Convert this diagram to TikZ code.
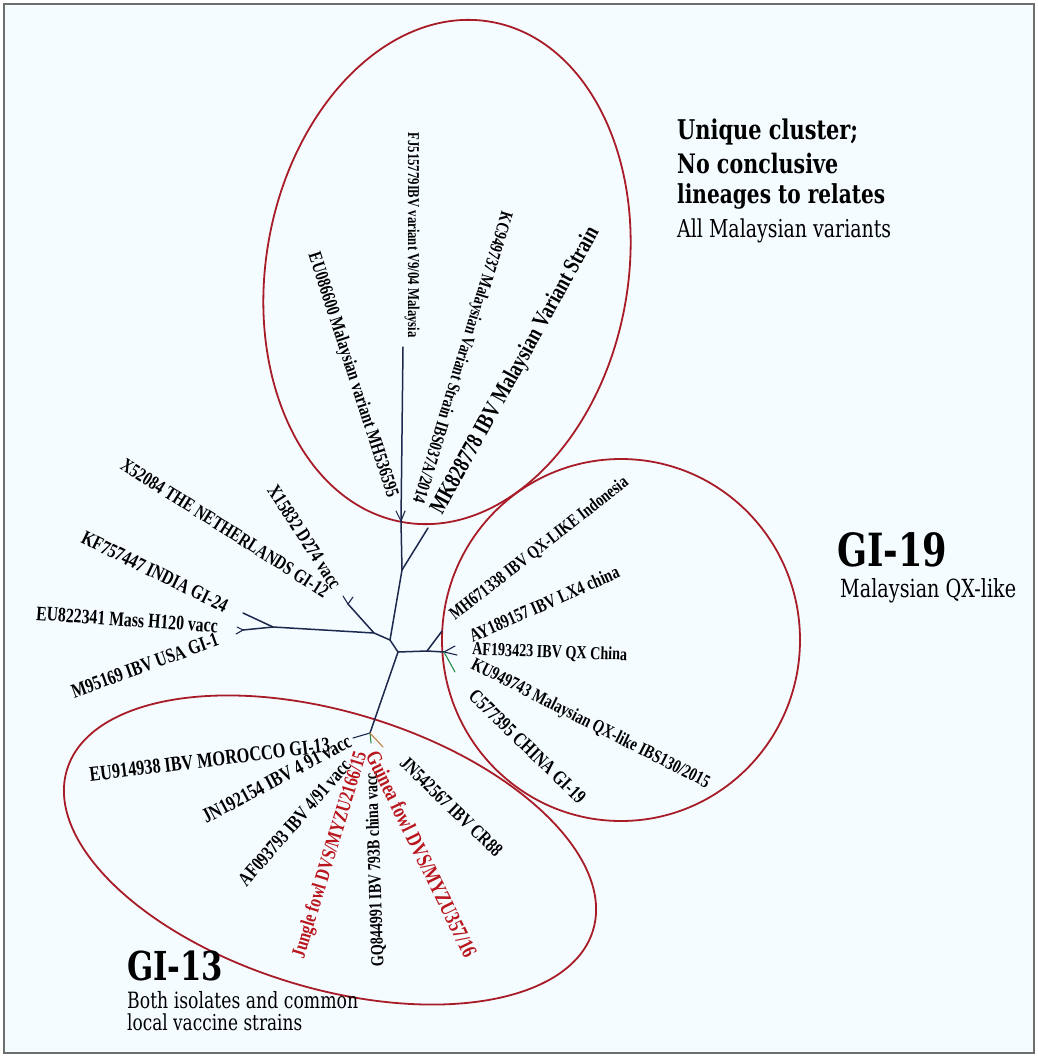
\documentclass[tikz,border=0pt]{standalone}
\usepackage{fontspec}
\setmainfont{Liberation Serif}
\newfontfamily\notefont{DejaVu Serif}
\usepackage{graphicx}
\usetikzlibrary{positioning}
\definecolor{treenavy}{RGB}{28,40,78}
\definecolor{ringred}{RGB}{168,28,40}
\definecolor{isored}{RGB}{185,22,30}
\definecolor{twiggreen}{RGB}{40,140,70}
\definecolor{paper}{RGB}{245,252,255}
\definecolor{framegrey}{RGB}{110,110,110}
% squeeze a label to the width it has in the tree
\newcommand{\fitw}[2]{\resizebox{#1pt}{!}{\scalebox{1}[1.3]{#2}}}

\begin{document}
\begin{tikzpicture}[
    x=1pt, y=-1pt,
    branch/.style={draw=treenavy, line width=1.5pt, line cap=round},
    twig/.style={branch, line width=1.1pt},
    ring/.style={draw=ringred, line width=1.8pt},
    lab/.style={inner sep=0pt, font=\bfseries, text=black},
    iso/.style={lab, text=isored},
    note/.style={inner sep=0pt, anchor=base west, font=\notefont}
]
    \useasboundingbox (0,0) rectangle (1038,1057);
    \fill[paper] (5,5) rectangle (1033,1052);
    \draw[framegrey, line width=1.2pt] (4,4) rectangle (1034,1053);

    % clusters
    \draw[ring, rotate around={-10:(447,272)}] (447,272) ellipse [x radius=181pt, y radius=254pt];
    \draw[ring] (621,640) ellipse [x radius=179pt, y radius=181pt];
    \draw[ring, rotate around={-17:(330,850)}] (330,850) ellipse [x radius=275pt, y radius=138pt];

    % tree
    \coordinate (c0)  at (398,652);
    \coordinate (ua)  at (390,640);
    \coordinate (up)  at (402,570);
    \coordinate (grn) at (428,528);
    \coordinate (top) at (401,521);
    \coordinate (fjt) at (403,347);
    \coordinate (tl)  at (396,511);
    \coordinate (tr)  at (405,511);
    \coordinate (lf)  at (374,633);
    \coordinate (dt)  at (348,604);
    \coordinate (dt1) at (343,596);
    \coordinate (dt2) at (353,597);
    \coordinate (mj)  at (273,627);
    \coordinate (kft) at (243,613);
    \coordinate (mn)  at (243,630);
    \coordinate (mn1) at (236,634);
    \coordinate (mn2) at (237,627);
    \coordinate (rt)  at (427,651);
    \coordinate (rt1) at (442,631);
    \coordinate (rs)  at (444,652);
    \coordinate (rs1) at (455,646);
    \coordinate (rs2) at (457,655);
    \coordinate (rs3) at (455,672);
    \coordinate (bt)  at (370,733);
    \coordinate (bt1) at (353,738);
    \coordinate (bt2) at (383,747);
    \coordinate (bt3) at (371,743);

    \draw[branch] (c0) -- (ua) -- (up) -- (top) -- (fjt);
    \draw[branch] (up) -- (grn);
    \draw[twig] (top) -- (tl);
    \draw[twig] (top) -- (tr);
    \draw[branch] (ua) -- (lf) -- (dt);
    \draw[twig] (dt) -- (dt1);
    \draw[twig] (dt) -- (dt2);
    \draw[branch] (lf) -- (mj) -- (kft);
    \draw[branch] (mj) -- (mn);
    \draw[twig] (mn) -- (mn1);
    \draw[twig] (mn) -- (mn2);
    \draw[branch] (c0) -- (rt) -- (rt1);
    \draw[branch] (rt) -- (rs);
    \draw[twig] (rs) -- (rs1);
    \draw[twig] (rs) -- (rs2);
    \draw[twig, draw=twiggreen] (rs) -- (rs3);
    \draw[branch] (c0) -- (bt);
    \draw[twig] (bt) -- (bt1);
    \draw[twig, draw=twiggreen] (bt) -- (bt3);
    \draw[twig, draw=brown] (bt) -- (bt2);

    % Malaysian variants
    \node[lab, rotate=-90, anchor=east]  (fj)    at (412,338) {\fitw{205}{FJ515779IBV variant V9/04 Malaysia}};
    \node[lab, rotate=-72, anchor=east]  (eu086) at (392,497) {\fitw{256}{EU086600 Malaysian variant MH536595}};
    \node[lab, rotate=-107, anchor=east] (kc)    at (417,503) {\fitw{304}{KC949737 Malaysian Variant Strain IBS037A/2014}};
    \node[lab, rotate=61, anchor=west]   (mk)    at (437,513) {\fitw{324}{MK828778 IBV Malaysian Variant Strain}};

    % GI-19
    \node[lab, rotate=38, anchor=west]  (mh)    at (452,617) {\fitw{221}{MH671338 IBV QX-LIKE Indonesia}};
    \node[lab, rotate=24, anchor=west]  (ay)    at (470,637) {\fitw{162}{AY189157 IBV LX4 china}};
    \node[lab, rotate=-2, anchor=west]  (af193) at (472,650) {\fitw{155}{AF193423 IBV QX China}};
    \node[lab, rotate=-27, anchor=west] (ku)    at (472,664) {\fitw{265}{KU949743 Malaysian QX-like IBS130/2015}};
    \node[lab, rotate=-44, anchor=west] (cs)    at (472,693) {\fitw{154}{C577395 CHINA GI-19}};

    % outgroups
    \node[lab, rotate=-32.5, anchor=east] (x52)  at (327,593) {\fitw{242}{X52084 THE NETHERLANDS GI-12}};
    \node[lab, rotate=-57, anchor=east]   (x15)  at (337,587) {\fitw{119}{X15832 D274 vacc}};
    \node[lab, rotate=-26, anchor=east]   (kf)   at (227,607) {\fitw{160}{KF757447 INDIA GI-24}};
    \node[lab, rotate=-4, anchor=east]    (mass) at (218,626) {\fitw{182}{EU822341 Mass H120 vacc}};
    \node[lab, rotate=20, anchor=east]    (usa)  at (218,639) {\fitw{155}{M95169 IBV USA GI-1}};

    % GI-13
    \node[lab, rotate=7, anchor=east]   (mor)    at (330,745) {\fitw{242}{EU914938 IBV MOROCCO GI-13}};
    \node[lab, rotate=28, anchor=east]  (jn19)   at (350,740) {\fitw{166}{JN192154 IBV 4 91 vacc}};
    \node[lab, rotate=49, anchor=east]  (af09)   at (347,762) {\fitw{160}{AF093793 IBV 4/91 vacc}};
    \node[iso, rotate=73, anchor=east]  (jungle) at (362,752) {\fitw{215}{Jungle fowl DVS/MYZU2166/15}};
    \node[lab, rotate=92, anchor=east]  (gq)     at (372,773) {\fitw{194}{GQ844991 IBV 793B china vacc}};
    \node[iso, rotate=-64, anchor=west] (guinea) at (372,752) {\fitw{227}{Guinea fowl DVS/MYZU357/16}};
    \node[lab, rotate=-44, anchor=west] (jn54)   at (403,760) {\fitw{134}{JN542567 IBV CR88}};

    % cluster notes
    \node[note] (uq1) at (677,139) {\fitw{181}{\bfseries Unique cluster;}};
    \node[note] (uq2) at (677,173) {\fitw{161}{\bfseries No conclusive}};
    \node[note] (uq3) at (677,203) {\fitw{208}{\bfseries lineages to relates}};
    \node[note] (uq4) at (677,237) {\fitw{214}{All Malaysian variants}};
    \node[note] (g19)  at (837,566) {\fitw{110}{\bfseries GI-19}};
    \node[note] (g19s) at (840,597) {\fitw{176}{Malaysian QX-like}};
    \node[note] (g13)  at (127,980) {\fitw{96}{\bfseries GI-13}};
    \node[note] (g13a) at (127,1008) {\fitw{231}{Both isolates and common}};
    \node[note] (g13b) at (127,1030) {\fitw{175}{local vaccine strains}};
\end{tikzpicture}
\end{document}
